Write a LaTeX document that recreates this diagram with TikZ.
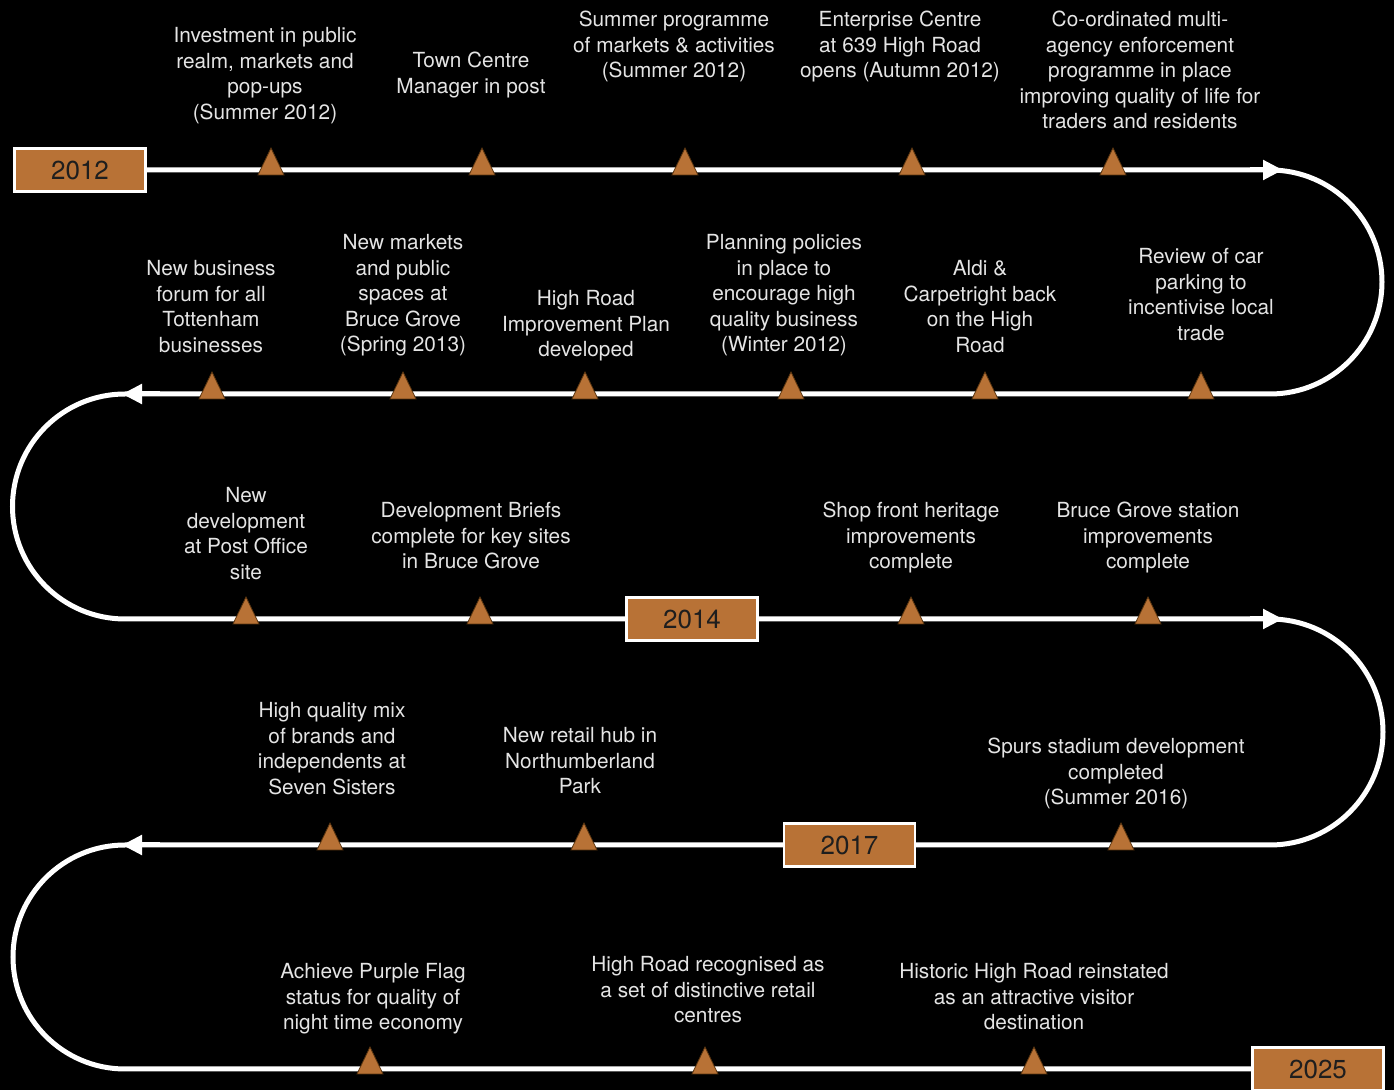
\documentclass[tikz,border=0pt]{standalone}
\usepackage{fontspec}
\setmainfont{TeX Gyre Heros}
\usetikzlibrary{arrows.meta}
\definecolor{copper}{HTML}{B87236}
\definecolor{txt}{HTML}{E4E4E4}
\definecolor{edgecol}{HTML}{5A3510}
\definecolor{boxtxt}{HTML}{1E1E1E}
\begin{document}
\begin{tikzpicture}[x=0.5pt,y=-0.5pt,
  lbl/.style={text=txt, align=center, anchor=north, inner sep=0pt,
    font=\fontsize{10.4}{12.75}\selectfont},
  yearbox/.style={draw=white, line width=1.2pt, fill=copper,
    minimum width=65.5pt, minimum height=21.5pt, inner sep=0pt,
    text=boxtxt, font=\fontsize{13}{15}\selectfont},
  track/.style={draw=white, line width=2.5pt},
  tip/.style={-{Triangle[length=10pt,width=9.5pt]}, draw=white, fill=white, line width=2.5pt},
  mk/.pic={\draw[fill=copper, draw=edgecol, line width=0.4pt] (-13,5) -- (0,-22) -- (13,5) -- cycle;}
]
\fill[black] (0,0) rectangle (1394,1090);
\useasboundingbox (0,0) rectangle (1394,1090);

% year boxes
\node[yearbox] (y2012) at (80,170) {2012};
\node[yearbox] (y2014) at (692,619) {2014};
\node[yearbox] (y2017) at (849.5,845) {2017};
\node[yearbox] (y2025) at (1318,1069) {2025};

% turning points
\coordinate (r1) at (1270,170);
\coordinate (l1) at (125,394);
\coordinate (r2) at (1270,619);
\coordinate (l2) at (125,845);

% track
\draw[track] (y2012.east) -- (r1) arc[start angle=-90,end angle=90,radius=112]
  -- (l1) arc[start angle=270,end angle=90,radius=112.5] -- (y2014.west);
\draw[track] (y2014.east) -- (r2) arc[start angle=-90,end angle=90,radius=113]
  -- (y2017.east);
\draw[track] (y2017.west) -- (l2) arc[start angle=270,end angle=90,radius=112]
  -- (y2025.west);

% arrow heads
\coordinate (a1s) at (1250,170); \coordinate (a1e) at (1283,170);
\coordinate (a2s) at (160,394);  \coordinate (a2e) at (122,394);
\coordinate (a3s) at (1250,619); \coordinate (a3e) at (1283,619);
\coordinate (a4s) at (160,845);  \coordinate (a4e) at (122,845);
\draw[tip] (a1s) -- (a1e);
\draw[tip] (a2s) -- (a2e);
\draw[tip] (a3s) -- (a3e);
\draw[tip] (a4s) -- (a4e);

% markers
\foreach \x in {271,482,685,912,1113} \pic at (\x,170) {mk};
\foreach \x in {212,403,585,791,985,1201} \pic at (\x,394) {mk};
\foreach \x in {246,480,911,1148} \pic at (\x,619) {mk};
\foreach \x in {330,584,1121} \pic at (\x,845) {mk};
\foreach \x in {370,705,1034} \pic at (\x,1069) {mk};

% row 1 labels
\node[lbl] (t11) at (265,27) {Investment in public\\realm, markets and\\pop-ups\\(Summer 2012)};
\node[lbl] (t12) at (471,52) {Town Centre\\Manager in post};
\node[lbl] (t13) at (674,11) {Summer programme\\of markets \& activities\\(Summer 2012)};
\node[lbl] (t14) at (900,11) {Enterprise Centre\\at 639 High Road\\opens (Autumn 2012)};
\node[lbl] (t15) at (1140,11) {Co-ordinated multi-\\agency enforcement\\programme in place\\improving quality of life for\\traders and residents};

% row 2 labels
\node[lbl] (t21) at (211,260) {New business\\forum for all\\Tottenham\\businesses};
\node[lbl] (t22) at (403,234) {New markets\\and public\\spaces at\\Bruce Grove\\(Spring 2013)};
\node[lbl] (t23) at (586,290) {High Road\\Improvement Plan\\developed};
\node[lbl] (t24) at (784,234) {Planning policies\\in place to\\encourage high\\quality business\\(Winter 2012)};
\node[lbl] (t25) at (980,260) {Aldi \&\\Carpetright back\\on the High\\Road};
\node[lbl] (t26) at (1201,248) {Review of car\\parking to\\incentivise local\\trade};

% row 3 labels
\node[lbl] (t31) at (246,487) {New\\development\\at Post Office\\site};
\node[lbl] (t32) at (471,502) {Development Briefs\\complete for key sites\\in Bruce Grove};
\node[lbl] (t33) at (911,502) {Shop front heritage\\improvements\\complete};
\node[lbl] (t34) at (1148,502) {Bruce Grove station\\improvements\\complete};

% row 4 labels
\node[lbl] (t41) at (332,702) {High quality mix\\of brands and\\independents at\\Seven Sisters};
\node[lbl] (t42) at (580,727) {New retail hub in\\Northumberland\\Park};
\node[lbl] (t43) at (1116,738) {Spurs stadium development\\completed\\(Summer 2016)};

% row 5 labels
\node[lbl] (t51) at (373,963) {Achieve Purple Flag\\status for quality of\\night time economy};
\node[lbl] (t52) at (708,956) {High Road recognised as\\a set of distinctive retail\\centres};
\node[lbl] (t53) at (1034,963) {Historic High Road reinstated\\as an attractive visitor\\destination};
\end{tikzpicture}
\end{document}
